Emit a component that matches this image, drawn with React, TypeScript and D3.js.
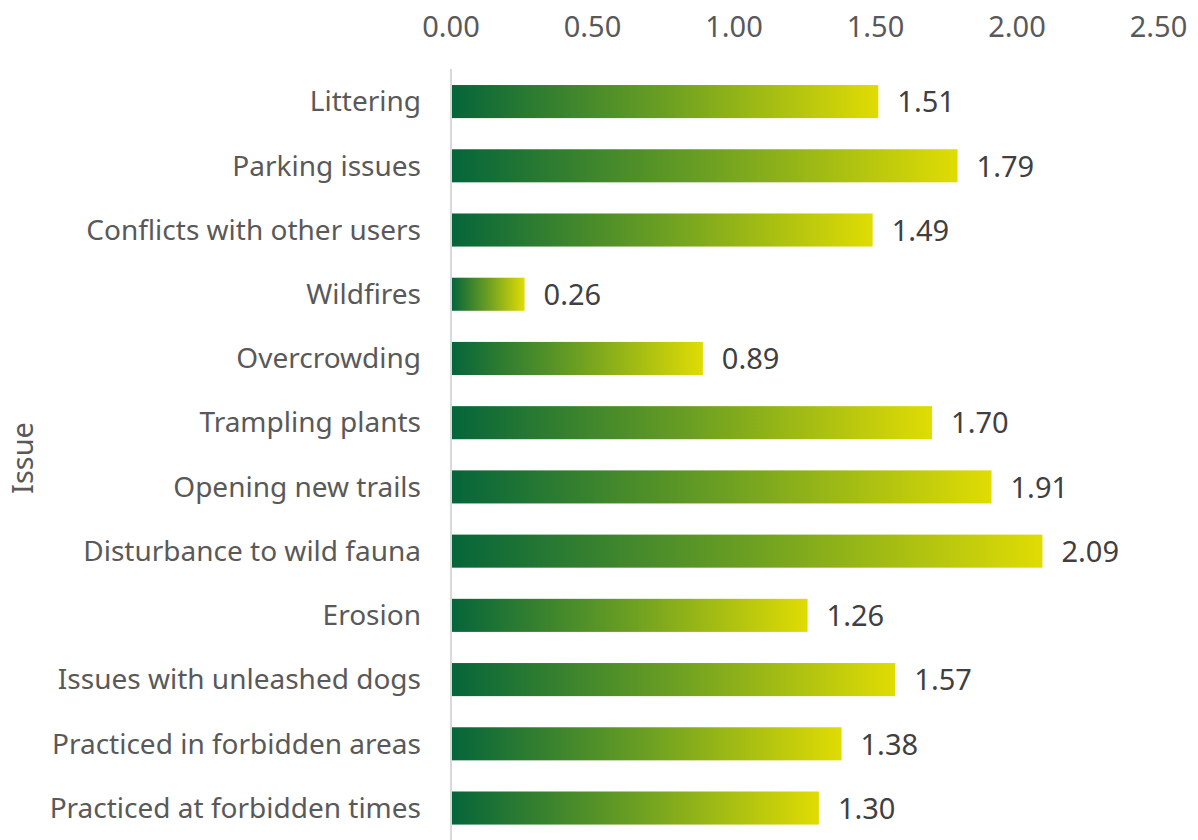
import React from 'react';
import * as d3 from 'd3';

const issues = [
  'Littering',
  'Parking issues',
  'Conflicts with other users',
  'Wildfires',
  'Overcrowding',
  'Trampling plants',
  'Opening new trails',
  'Disturbance to wild fauna',
  'Erosion',
  'Issues with unleashed dogs',
  'Practiced in forbidden areas',
  'Practiced at forbidden times',
];
const scores = [1.51, 1.79, 1.49, 0.26, 0.89, 1.7, 1.91, 2.09, 1.26, 1.57, 1.38, 1.3];
const xTicks = [0, 0.5, 1, 1.5, 2, 2.5];

const W = 1198;
const H = 840;
const font = '"Noto Sans", sans-serif';

const App = () => {
  const x = d3.scaleLinear().domain([0, 2.5]).range([451, 1158.5]);
  const y = d3
    .scaleBand()
    .domain(issues)
    .range([69.3, 840.3])
    .paddingInner(0.485)
    .paddingOuter(0.245);
  const fmt = d3.format('.2f');

  return (
    <svg width={W} height={H} style={{ position: 'absolute', left: 0, top: 0 }}>
      <defs>
        <linearGradient id="barGrad" x1="0" x2="1" y1="0" y2="0">
          <stop offset="0%" stopColor="#05653a" />
          <stop offset="50%" stopColor="#6b9f22" />
          <stop offset="100%" stopColor="#e0dc04" />
        </linearGradient>
      </defs>
      <rect width={W} height={H} fill="#fff" />
      {xTicks.map(t => (
        <text
          key={t}
          x={x(t)}
          y={37}
          textAnchor="middle"
          fontFamily={font}
          fontSize={29}
          fill="#595959"
        >
          {fmt(t)}
        </text>
      ))}
      <line x1={x(0)} x2={x(0)} y1={69} y2={H} stroke="#d9d9d9" strokeWidth={2} />
      {issues.map((d, i) => {
        const yy = y(d)!;
        const bh = y.bandwidth();
        return (
          <g key={d}>
            <rect
              x={x(0) + 1}
              y={yy}
              width={x(scores[i]) - x(0) - 1}
              height={bh}
              fill="url(#barGrad)"
            />
            <text
              x={421}
              y={yy + bh / 2}
              dy="0.35em"
              textAnchor="end"
              fontFamily={font}
              fontSize={28}
              fill="#595959"
            >
              {d}
            </text>
            <text
              x={x(scores[i]) + 19}
              y={yy + bh / 2}
              dy="0.37em"
              fontFamily={font}
              fontSize={29}
              fill="#404040"
            >
              {fmt(scores[i])}
            </text>
          </g>
        );
      })}
      <text
        transform={`translate(33 ${458}) rotate(-90)`}
        textAnchor="middle"
        fontFamily={font}
        fontSize={29}
        fill="#595959"
      >
        Issue
      </text>
    </svg>
  );
};

export default App;
